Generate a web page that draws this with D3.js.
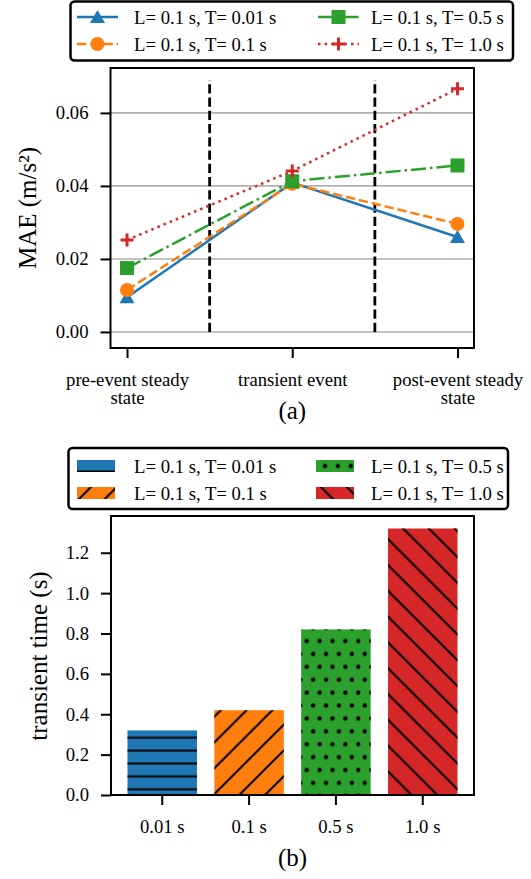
<!DOCTYPE html>
<html>
<head>
<meta charset="utf-8">
<script src="https://cdn.jsdelivr.net/npm/d3@7"></script>
<style>
body { margin: 0; background: #fff; }
text { font-family: "Liberation Serif", "Times New Roman", serif; fill: #000; }
</style>
</head>
<body>
<div id="chart"></div>
<script>
// data
const phaseLabels = [["pre-event steady", "state"], ["transient event"], ["post-event steady", "state"]];
const seriesLabels = ["L= 0.1 s, T= 0.01 s", "L= 0.1 s, T= 0.1 s", "L= 0.1 s, T= 0.5 s", "L= 0.1 s, T= 1.0 s"];
const maeT001 = [0.0095, 0.0409, 0.0260];
const maeT01 = [0.0115, 0.0406, 0.0296];
const maeT05 = [0.0175, 0.0413, 0.0456];
const maeT10 = [0.0252, 0.0441, 0.0666];
const maeTicks = [0, 0.02, 0.04, 0.06];
const dividerX = [0.5, 1.5];
const dividerSpan = [0, 0.069];

const windowLabels = ["0.01 s", "0.1 s", "0.5 s", "1.0 s"];
const transientTime = [0.32, 0.42, 0.82, 1.32];
const timeTicks = [0, 0.2, 0.4, 0.6, 0.8, 1.0, 1.2];

const colors = ["#1f77b4", "#ff7f0e", "#2ca02c", "#d62728"];
const dashes = [null, "9.25,4", "15,4,2.5,4", "2.5,4.1"];
const markers = ["triangle", "circle", "square", "plus"];
const fontSize = 18.7;

const svg = d3.select("#chart")
    .append("svg")
    .attr("width", 531)
    .attr("height", 879);

svg.append("rect").attr("width", 531).attr("height", 879).attr("fill", "#fff");

const defs = svg.append("defs");

// hatch patterns (matplotlib style)
function addPattern(id, kind, ox, oy) {
    const L = 25.8, H = 12.9;
    const p = defs.append("pattern")
        .attr("id", id)
        .attr("patternUnits", "userSpaceOnUse")
        .attr("x", ox).attr("y", oy);
    if (kind == "hline") {
        p.attr("width", H).attr("height", H);
        p.append("path").attr("d", `M-1,${H / 2}H${H + 1}`)
            .attr("stroke", "#000").attr("stroke-width", 2);
    } else if (kind == "fwd") {
        p.attr("width", L).attr("height", L);
        p.append("path").attr("d", `M0,${L}L${L},0M-2,2L2,-2M${L - 2},${L + 2}L${L + 2},${L - 2}`)
            .attr("stroke", "#000").attr("stroke-width", 2);
    } else if (kind == "back") {
        p.attr("width", L).attr("height", L);
        p.append("path").attr("d", `M0,0L${L},${L}M-2,${L - 2}L2,${L + 2}M${L - 2},-2L${L + 2},2`)
            .attr("stroke", "#000").attr("stroke-width", 2);
    } else {
        p.attr("width", H).attr("height", L);
        p.append("circle").attr("cx", 3.2).attr("cy", 6.45).attr("r", 2.2).attr("fill", "#000");
        p.append("circle").attr("cx", 9.65).attr("cy", 19.35).attr("r", 2.2).attr("fill", "#000");
    }
}
const hatchKinds = ["hline", "fwd", "dots", "back"];
addPattern("bar0", "hline", 0, -4.05);
addPattern("bar1", "fwd", 2.2, 0);
addPattern("bar2", "dots", 303.5, 634.55);
addPattern("bar3", "back", 3.6, 0);
addPattern("leg0", "hline", 0, 465.05);
addPattern("leg1", "fwd", 10.4, 0);
addPattern("leg2", "dots", 321.8, 459.55);
addPattern("leg3", "back", 14.6, 0);

function drawMarker(g, type, color) {
    if (type == "triangle") {
        g.append("path").attr("d", "M0,-7L7.5,6L-7.5,6Z").attr("fill", color);
    } else if (type == "circle") {
        g.append("circle").attr("r", 7).attr("fill", color);
    } else if (type == "square") {
        g.append("rect").attr("x", -7).attr("y", -7).attr("width", 14).attr("height", 14).attr("fill", color);
    } else {
        g.append("path").attr("d", "M-6.5,0H6.5M0,-6.5V6.5").attr("stroke", color).attr("stroke-width", 3);
    }
}

function styleAxis(g) {
    g.attr("font-family", null).attr("font-size", null);
    g.select(".domain").remove();
    g.selectAll(".tick line").attr("stroke", "#000").attr("stroke-width", 2);
    g.selectAll(".tick text").attr("font-size", fontSize).attr("fill", "#000");
}

function drawLegendBox(x0, y0, x1, y1) {
    svg.append("rect")
        .attr("x", x0).attr("y", y0)
        .attr("width", x1 - x0).attr("height", y1 - y0)
        .attr("rx", 4)
        .attr("fill", "#fff")
        .attr("stroke", "#000")
        .attr("stroke-width", 2.5);
}

// ---------- (a) MAE line chart ----------
const x1 = d3.scaleLinear().domain([-0.1, 2.1]).range([110.5, 474]);
const y1 = d3.scaleLinear().domain([-0.0044, 0.0723]).range([348, 68]);

// gridlines
svg.append("g").selectAll("line")
    .data(maeTicks)
    .enter().append("line")
    .attr("x1", x1.range()[0]).attr("x2", x1.range()[1])
    .attr("y1", d => y1(d)).attr("y2", d => y1(d))
    .attr("stroke", "#b0b0b0")
    .attr("stroke-width", 1.6);

// vertical dividers between phases
svg.append("g").selectAll("line")
    .data(dividerX)
    .enter().append("line")
    .attr("x1", d => x1(d)).attr("x2", d => x1(d))
    .attr("y1", y1(dividerSpan[0])).attr("y2", y1(dividerSpan[1]))
    .attr("stroke", "#000")
    .attr("stroke-width", 2.8)
    .attr("stroke-dasharray", "9.25,4");

const series = [maeT001, maeT01, maeT05, maeT10].map((values, i) => ({
    label: seriesLabels[i], values: values, color: colors[i], dash: dashes[i], marker: markers[i]
}));

const line = d3.line().x((d, i) => x1(i)).y(d => y1(d));

series.forEach(s => {
    const g = svg.append("g");
    g.append("path")
        .attr("d", line(s.values))
        .attr("fill", "none")
        .attr("stroke", s.color)
        .attr("stroke-width", 2.5)
        .attr("stroke-dasharray", s.dash);
    s.values.forEach((v, i) => {
        drawMarker(g.append("g").attr("transform", `translate(${x1(i)},${y1(v)})`), s.marker, s.color);
    });
});

svg.append("rect")
    .attr("x", x1.range()[0]).attr("y", y1.range()[1])
    .attr("width", x1.range()[1] - x1.range()[0])
    .attr("height", y1.range()[0] - y1.range()[1])
    .attr("fill", "none").attr("stroke", "#000").attr("stroke-width", 2);

svg.append("g")
    .attr("transform", `translate(${x1.range()[0]},0)`)
    .call(d3.axisLeft(y1).tickValues(maeTicks).tickSize(10).tickPadding(12).tickFormat(d3.format(".2f")))
    .call(styleAxis);

const xAxisA = svg.append("g")
    .attr("transform", `translate(0,${y1.range()[0]})`)
    .call(d3.axisBottom(x1).tickValues([0, 1, 2]).tickSize(10).tickPadding(14.7).tickFormat(""))
    .call(styleAxis);
xAxisA.selectAll(".tick text").attr("dy", null).each(function (d) {
    const t = d3.select(this);
    phaseLabels[d].forEach((txt, k) => {
        t.append("tspan").attr("x", 0).attr("dy", k == 0 ? "0.71em" : "0.96em").text(txt);
    });
});

svg.append("text")
    .attr("transform", "translate(30,208) rotate(-90)")
    .attr("text-anchor", "middle")
    .attr("dy", "0.24em")
    .attr("font-size", 25)
    .text("MAE (m/s²)");

svg.append("text")
    .attr("x", (x1.range()[0] + x1.range()[1]) / 2)
    .attr("y", 419)
    .attr("text-anchor", "middle")
    .attr("font-size", 25)
    .text("(a)");

// legend (a)
drawLegendBox(70.5, 1.5, 513, 60.5);
const legRowsA = [17, 44], legHandleA = [77, 318], legTextA = [134, 371];
series.forEach((s, i) => {
    const col = Math.floor(i / 2), row = i % 2;
    const g = svg.append("g").attr("transform", `translate(${legHandleA[col]},${legRowsA[row]})`);
    g.append("path")
        .attr("d", "M0,0H41")
        .attr("stroke", s.color).attr("stroke-width", 2.5)
        .attr("stroke-dasharray", s.dash);
    drawMarker(g.append("g").attr("transform", "translate(20.5,0)"), s.marker, s.color);
    svg.append("text")
        .attr("x", legTextA[col]).attr("y", legRowsA[row])
        .attr("dy", "0.35em")
        .attr("font-size", fontSize)
        .text(s.label);
});

// ---------- (b) transient time bar chart ----------
const x2 = d3.scaleBand().domain(windowLabels).range([111, 474]).paddingInner(0.2).paddingOuter(0.19);
const y2 = d3.scaleLinear().domain([0, 1.382]).range([795, 516]);

const bars = svg.append("g").selectAll("g")
    .data(transientTime)
    .enter().append("g");
bars.append("rect")
    .attr("x", (d, i) => x2(windowLabels[i]))
    .attr("width", x2.bandwidth())
    .attr("y", d => y2(d))
    .attr("height", d => y2(0) - y2(d))
    .attr("fill", (d, i) => colors[i]);
bars.append("rect")
    .attr("x", (d, i) => x2(windowLabels[i]))
    .attr("width", x2.bandwidth())
    .attr("y", d => y2(d))
    .attr("height", d => y2(0) - y2(d))
    .attr("fill", (d, i) => `url(#bar${i})`);

svg.append("rect")
    .attr("x", x2.range()[0]).attr("y", y2.range()[1])
    .attr("width", x2.range()[1] - x2.range()[0])
    .attr("height", y2.range()[0] - y2.range()[1])
    .attr("fill", "none").attr("stroke", "#000").attr("stroke-width", 2);

svg.append("g")
    .attr("transform", `translate(${x2.range()[0]},0)`)
    .call(d3.axisLeft(y2).tickValues(timeTicks).tickSize(10).tickPadding(12).tickFormat(d3.format(".1f")))
    .call(styleAxis);

svg.append("g")
    .attr("transform", `translate(0,${y2.range()[0]})`)
    .call(d3.axisBottom(x2).tickSize(10).tickPadding(14.7))
    .call(styleAxis);

svg.append("text")
    .attr("transform", "translate(41,656) rotate(-90)")
    .attr("text-anchor", "middle")
    .attr("dy", "0.24em")
    .attr("font-size", 25)
    .text("transient time (s)");

svg.append("text")
    .attr("x", (x2.range()[0] + x2.range()[1]) / 2)
    .attr("y", 866)
    .attr("text-anchor", "middle")
    .attr("font-size", 25)
    .text("(b)");

// legend (b)
drawLegendBox(68.5, 448, 508, 509);
const legRowsB = [466, 493], legHandleB = [77, 316], legTextB = [134, 371];
seriesLabels.forEach((label, i) => {
    const col = Math.floor(i / 2), row = i % 2;
    svg.append("rect")
        .attr("x", legHandleB[col]).attr("y", legRowsB[row] - 6)
        .attr("width", 38).attr("height", 12)
        .attr("fill", colors[i]);
    svg.append("rect")
        .attr("x", legHandleB[col]).attr("y", legRowsB[row] - 6)
        .attr("width", 38).attr("height", 12)
        .attr("fill", `url(#leg${i})`);
    svg.append("text")
        .attr("x", legTextB[col]).attr("y", legRowsB[row])
        .attr("dy", "0.35em")
        .attr("font-size", fontSize)
        .text(label);
});
</script>
</body>
</html>
